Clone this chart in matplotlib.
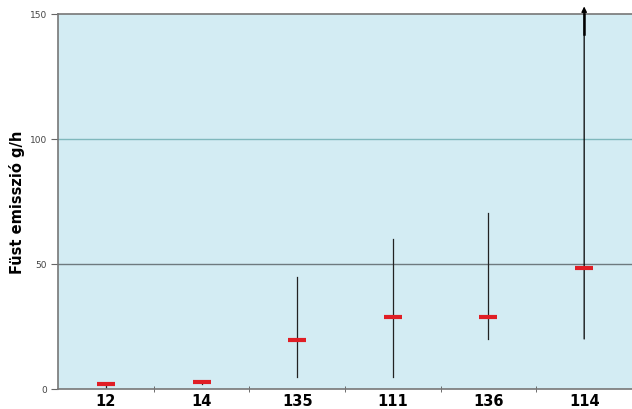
import matplotlib
matplotlib.use("Agg")
import matplotlib.pyplot as plt
import numpy as np

categories = ["12", "14", "135", "111", "136", "114"]
means = [2, 3, 19.5, 29, 29, 48.3]
lows = [1, 2, 5, 5, 20, 20]
highs = [2, 3, 45, 60, 70.5, 150]
arrow_top = [False, False, False, False, False, True]

fig = plt.figure(figsize=(6.32, 4.10), dpi=100)
ax_w = 1 - 58/632
ax = fig.add_axes([58/632, 20/410, ax_w, (391-16)/410])
ax.set_facecolor("#D3ECF3")
x = np.arange(len(categories))
ax.set_xlim(-0.5, len(categories) - 0.5)
ax.set_ylim(0, 150)

ax.axhline(100, color="#7FB8BC", lw=1.0, zorder=1)
ax.axhline(50, color="#6E7A7E", lw=1.0, zorder=1)

for xi, lo, hi, up in zip(x, lows, highs, arrow_top):
    if up:
        ax.annotate("", xy=(xi, 153), xytext=(xi, lo), xycoords="data",
                    arrowprops=dict(arrowstyle="-|>", color="black", lw=0.9,
                                    mutation_scale=8, shrinkA=0, shrinkB=0),
                    annotation_clip=False, zorder=3)
        ax.plot([xi, xi], [142, 150], color="black", lw=1.8, zorder=3, clip_on=False)
    else:
        ax.plot([xi, xi], [lo, hi], color="#222222", lw=0.9, zorder=3)

ax.scatter(x, means, marker="_", s=150, color="#E01E25", linewidths=3, zorder=4)

ax.set_xticks(x)
ax.set_xticklabels(categories, fontsize=10.5, fontweight="bold")
ax.tick_params(axis="x", which="major", length=0, pad=3)
ax.set_xticks(np.arange(0.5, len(categories) - 1, 1.0), minor=True)
ax.tick_params(axis="x", which="minor", length=4, direction="inout", color="#555555")

ax.set_yticks([0, 50, 100, 150])
ax.tick_params(axis="y", labelsize=6.5, labelcolor="#444444", length=5, color="#666666", pad=3)

for s in ["left", "bottom", "top"]:
    ax.spines[s].set_color("#777777")
    ax.spines[s].set_linewidth(1.2)
ax.spines["right"].set_visible(False)

ax.set_ylabel("Füst emisszió g/h", fontsize=10.5, fontweight="bold")
ax.yaxis.set_label_coords(-33/632/ax_w, 0.5)

fig.savefig("out.png", dpi=100)
